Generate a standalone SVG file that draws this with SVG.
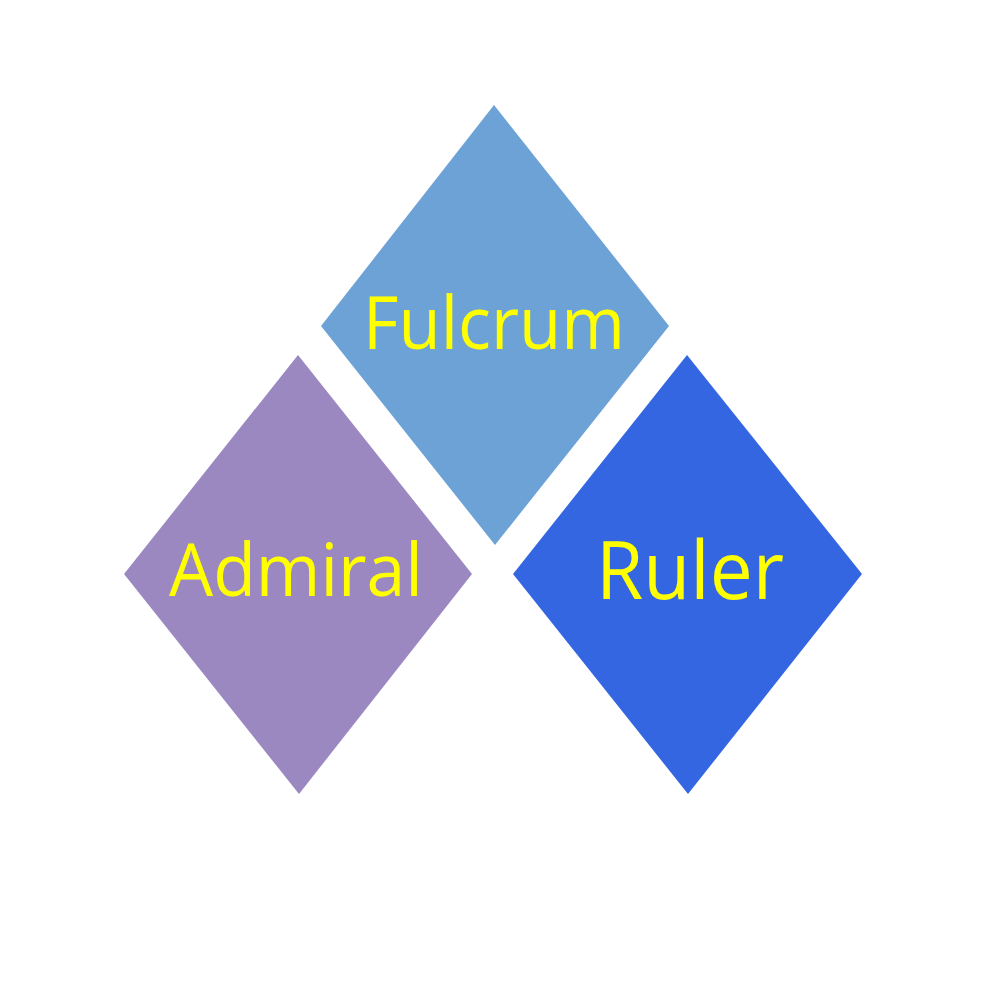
<svg xmlns="http://www.w3.org/2000/svg" width="990" height="990" viewBox="0 0 990 990">
<style>
text{font-family:"Open Sans","Noto Sans",sans-serif;fill:#FFFF00;text-anchor:middle}
</style>
<rect width="990" height="990" fill="#FFFFFF"/>
<g id="connectors"></g>
<g id="fulcrum">
<polygon points="494,105 669,326 495,545 321,326" fill="#6CA2D6"/>
<text x="494" y="349" font-size="73" textLength="262" lengthAdjust="spacingAndGlyphs">Fulcrum</text>
</g>
<g id="admiral">
<polygon points="298,355 472,574 299,794 124,574" fill="#9B88C1"/>
<text x="296" y="596" font-size="74" textLength="254" lengthAdjust="spacingAndGlyphs">Admiral</text>
</g>
<g id="ruler">
<polygon points="687,355 862,574 688,794 513,574" fill="#3366E0"/>
<text x="690" y="599" font-size="80" textLength="188" lengthAdjust="spacingAndGlyphs">Ruler</text>
</g>
</svg>
